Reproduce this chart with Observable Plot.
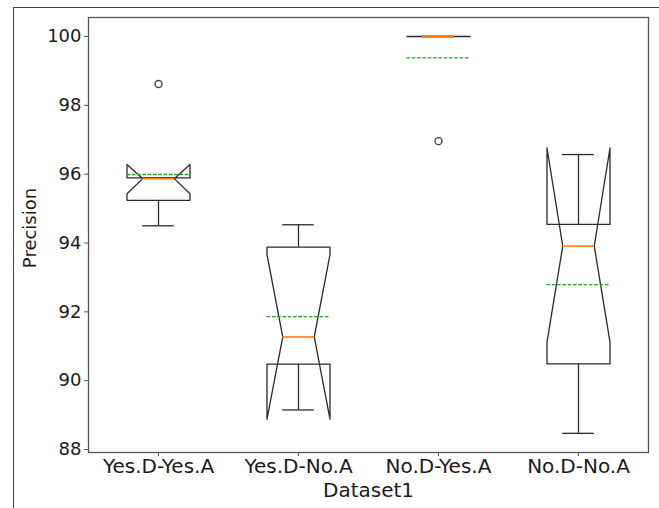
<!DOCTYPE html>
<html>
<head>
<meta charset="utf-8">
<script src="https://cdn.jsdelivr.net/npm/d3@7"></script>
<script src="https://cdn.jsdelivr.net/npm/@observablehq/plot@0.6"></script>
<style>
  html, body { margin: 0; padding: 0; background: #fff; }
  #wrap { position: relative; width: 659px; height: 508px; overflow: hidden; }
  #wrap svg { position: absolute; left: 0; top: 0; }
  #outer { position: absolute; left: 13px; top: 7px; width: 660px; height: 520px;
           border-left: 1px solid #444; border-top: 1px solid #444; pointer-events: none; z-index: 5; }
</style>
</head>
<body>
<div id="wrap"><div id="outer"></div></div>
<script>
const categories = ["Yes.D-Yes.A", "Yes.D-No.A", "No.D-Yes.A", "No.D-No.A"];
const whiskerLow  = [94.50, 89.15, 100.00, 88.47];
const q1          = [95.24, 90.48, 100.00, 90.49];
const medians     = [95.87, 91.27, 100.00, 93.91];
const q3          = [95.89, 93.88, 100.00, 94.54];
const whiskerHigh = [95.89, 94.53, 100.00, 96.57];
const notchLow    = [95.43, 88.88, 100.00, 91.12];
const notchHigh   = [96.28, 93.66, 100.00, 96.76];
const means       = [95.99, 91.86, 99.38, 92.79];
const outlierCat  = [0, 2];
const outlierVal  = [98.62, 96.96];
const yTicks = [88, 90, 92, 94, 96, 98, 100];
const xLabel = "Dataset1";
const yLabel = "Precision";

const W = 0.225;   // half box width (x units)
const N = 0.1125;  // half notch width

// matplotlib-style notched box outline
const outline = [];
categories.forEach((c, i) => {
  const x = i + 1;
  const pts = [
    [x - W, q1[i]], [x + W, q1[i]], [x + W, notchLow[i]], [x + N, medians[i]],
    [x + W, notchHigh[i]], [x + W, q3[i]], [x - W, q3[i]], [x - W, notchHigh[i]],
    [x - N, medians[i]], [x - W, notchLow[i]], [x - W, q1[i]]
  ];
  pts.forEach(([px, py]) => outline.push({cat: c, x: px, y: py}));
});
const stats = categories.map((c, i) => ({
  cat: c, x: i + 1, lo: whiskerLow[i], q1: q1[i], med: medians[i], q3: q3[i],
  hi: whiskerHigh[i], mean: means[i]
}));
const fliers = outlierCat.map((k, j) => ({x: k + 1, y: outlierVal[j]}));

const ink = "#2a2a2a";
const chart = Plot.plot({
  width: 659, height: 508,
  marginLeft: 88, marginTop: 17, marginRight: 11, marginBottom: 56,
  style: {fontFamily: "DejaVu Sans", fontSize: "18px", color: "#1a1a1a", background: "transparent"},
  x: {domain: [0.5, 4.5], axis: null},
  y: {domain: [87.913, 100.552], axis: null},
  marks: [
    Plot.frame({stroke: "#555", strokeWidth: 1.3}),
    Plot.axisY({ticks: yTicks, tickSize: 4, tickPadding: 3, label: null, fontSize: 18, stroke: "#555"}),
    Plot.axisX({ticks: [1, 2, 3, 4], tickFormat: d => categories[d - 1], tickSize: 4, tickPadding: 2,
                label: null, fontSize: 20, stroke: "#555"}),
    // whiskers
    Plot.ruleX(stats, {x: "x", y1: "q1", y2: "lo", stroke: ink, strokeWidth: 1.3}),
    Plot.ruleX(stats, {x: "x", y1: "q3", y2: "hi", stroke: ink, strokeWidth: 1.3}),
    Plot.ruleY(stats, {y: "lo", x1: d => d.x - N, x2: d => d.x + N, stroke: ink, strokeWidth: 1.3}),
    Plot.ruleY(stats, {y: "hi", x1: d => d.x - N, x2: d => d.x + N, stroke: ink, strokeWidth: 1.3}),
    // boxes
    Plot.line(outline, {x: "x", y: "y", z: "cat", stroke: ink, strokeWidth: 1.3, curve: "linear"}),
    // medians
    Plot.ruleY(stats, {y: "med", x1: d => d.x - N, x2: d => d.x + N, stroke: "#ff7f0e", strokeWidth: 1.6}),
    // means
    Plot.ruleY(stats, {y: "mean", x1: d => d.x - W, x2: d => d.x + W, stroke: "#2ca02c",
                       strokeWidth: 1.3, strokeDasharray: "3.7,1.6"}),
    // outliers
    Plot.dot(fliers, {x: "x", y: "y", r: 3.5, stroke: "#444", strokeWidth: 1.4, fill: "none"}),
    // axis labels
    Plot.text([xLabel], {frameAnchor: "bottom", dy: 38, lineAnchor: "middle", fontSize: 20, fill: "#1a1a1a"}),
    Plot.text([yLabel], {frameAnchor: "left", dx: -58, dy: -7, rotate: -90, textAnchor: "middle",
                         lineAnchor: "middle", fontSize: 18, fill: "#1a1a1a"})
  ]
});
document.getElementById("wrap").prepend(chart);
</script>
</body>
</html>
